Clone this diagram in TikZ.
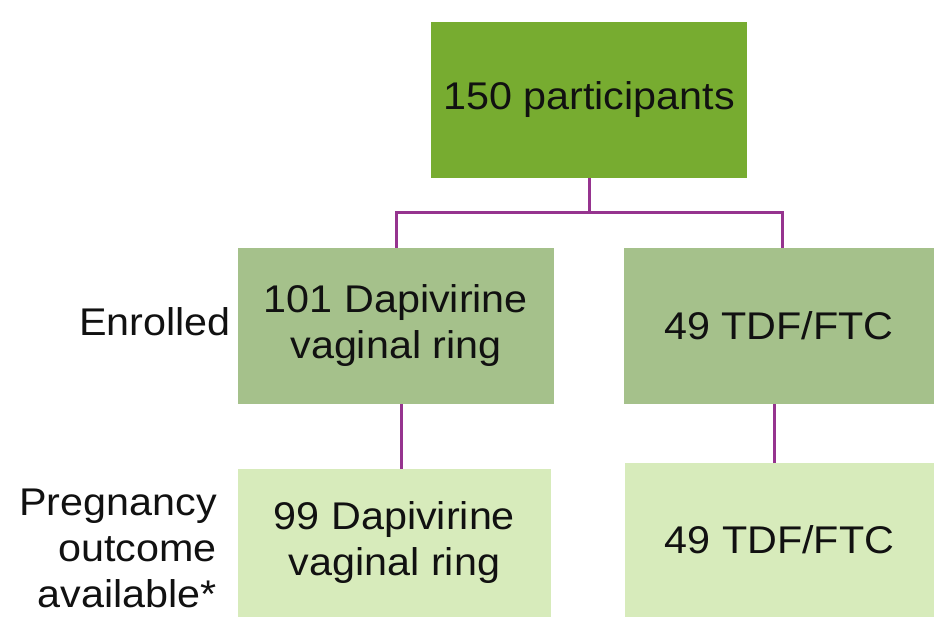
\documentclass[tikz,border=0pt]{standalone}
\usepackage{fontspec}
\setmainfont{Liberation Sans}[FakeStretch=1.07]
\definecolor{topgreen}{HTML}{77AC30}
\definecolor{midgreen}{HTML}{A5C18B}
\definecolor{lowgreen}{HTML}{D7EBBB}
\definecolor{linkpurple}{HTML}{96348F}
\definecolor{txt}{HTML}{111111}
\tikzset{
  boxbase/.style={rectangle, inner sep=0pt, text=txt, align=center,
    font=\fontsize{38.6}{46}\selectfont},
  topbox/.style={boxbase, fill=topgreen},
  midbox/.style={boxbase, fill=midgreen},
  lowbox/.style={boxbase, fill=lowgreen},
  sidelabel/.style={inner sep=0pt, text=txt, align=right,
    font=\fontsize{38.6}{46}\selectfont},
  link/.style={draw=linkpurple, line width=3pt}
}
\begin{document}
\begin{tikzpicture}[x=1pt,y=-1pt]
\useasboundingbox (0,0) rectangle (934,617);
\node[topbox, minimum width=316pt, minimum height=156pt] (top) at (589,100) {\raisebox{-3pt}{150 participants}};
\node[midbox, minimum width=316pt, minimum height=156pt] (m1) at (396,326) {101 Dapivirine\\vaginal ring};
\node[midbox, minimum width=310pt, minimum height=156pt] (m2) at (779,326) {49 TDF/FTC};
\node[lowbox, minimum width=313pt, minimum height=148pt] (b1) at (394.5,543) {99 Dapivirine\\vaginal ring};
\node[lowbox, minimum width=309pt, minimum height=154pt] (b2) at (779.5,540) {49 TDF/FTC};
\node[sidelabel, anchor=east] (enr) at (231,322) {Enrolled};
\node[sidelabel, anchor=east] (preg) at (217,548) {Pregnancy\\outcome\\available*};
\coordinate (junc) at (589,213);
\coordinate (lx) at (396,213);
\coordinate (rx) at (782,213);
\coordinate (d1) at (401,0);
\coordinate (d2) at (774,0);
\draw[link] (top.south) -- (junc);
\draw[link] (m1.north -| lx) -- (lx) -- (rx) -- (m2.north -| rx);
\draw[link] (m1.south -| d1) -- (b1.north -| d1);
\draw[link] (m2.south -| d2) -- (b2.north -| d2);
\end{tikzpicture}
\end{document}
